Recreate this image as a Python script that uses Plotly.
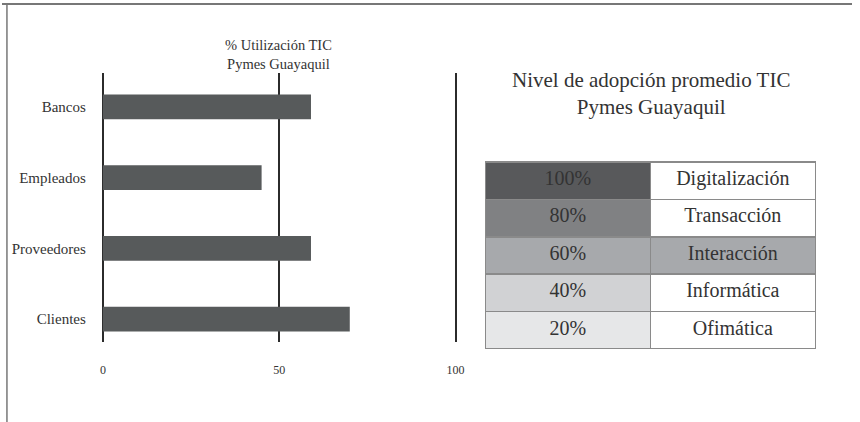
import plotly.graph_objects as go

# ---- data ----
categories = ["Clientes", "Proveedores", "Empleados", "Bancos"]
utilizacion = [70, 59, 45, 59]
x_ticks = [0, 50, 100]
x_tick_labels = ["0", "50", "100"]

niveles = ["100%", "80%", "60%", "40%", "20%"]
etapas = ["Digitalización", "Transacción", "Interacción", "Informática", "Ofimática"]
nivel_colors = ["#58595b", "#808183", "#a7a9ac", "#d1d2d4", "#e6e7e8"]
etapa_colors = ["#ffffff", "#ffffff", "#a7a9ac", "#ffffff", "#ffffff"]

FONT = "Liberation Serif, Times New Roman, serif"
W, H = 860, 422

fig = go.Figure()

fig.add_trace(go.Bar(
    y=categories, x=utilizacion, orientation="h",
    marker=dict(color="#575a5b", line=dict(width=0)),
    width=0.35, xaxis="x", yaxis="y", showlegend=False,
))

row_h = 37.4
fig.add_trace(go.Table(
    domain=dict(x=[489 / W, 823 / W], y=[(H - 349) / H, (H - 162) / H]),
    columnwidth=[1, 1],
    header=dict(
        values=[niveles[0], etapas[0]],
        fill=dict(color=[nivel_colors[0], etapa_colors[0]]),
        line=dict(color="#8a8a8a", width=1.5),
        font=dict(family=FONT, size=20, color="#333333"),
        align="center", height=row_h,
    ),
    cells=dict(
        values=[niveles[1:], etapas[1:]],
        fill=dict(color=[nivel_colors[1:], etapa_colors[1:]]),
        line=dict(color="#8a8a8a", width=1.5),
        font=dict(family=FONT, size=20, color="#333333"),
        align="center", height=row_h,
    ),
))

fig.update_layout(
    width=W, height=H,
    margin=dict(l=0, r=0, t=0, b=0),
    paper_bgcolor="white", plot_bgcolor="white",
    font=dict(family=FONT, color="#333333"),
    xaxis=dict(
        domain=[101 / W, 460 / W], range=[-0.3, 100.3],
        tickvals=x_ticks, ticktext=x_tick_labels,
        showgrid=True, gridcolor="#2b2b2b", gridwidth=2,
        zeroline=False, showline=False,
        ticks="outside", ticklen=17, tickcolor="rgba(0,0,0,0)",
        tickfont=dict(family=FONT, size=12, color="#333333"),
    ),
    yaxis=dict(
        domain=[(H - 342) / H, (H - 73) / H], range=[-0.325, 3.48],
        categoryorder="array", categoryarray=categories,
        showgrid=False, zeroline=False, showline=False,
        ticks="outside", ticklen=12, tickcolor="rgba(0,0,0,0)",
        tickfont=dict(family=FONT, size=15, color="#333333"),
    ),
    annotations=[
        dict(text="% Utilización TIC<br>Pymes Guayaquil", x=280 / W, y=(H - 55) / H,
             xref="paper", yref="paper", showarrow=False, xanchor="center", yanchor="middle",
             font=dict(family=FONT, size=14.5, color="#333333"), align="center"),
        dict(text="Nivel de adopción promedio TIC<br>Pymes Guayaquil", x=657 / W, y=(H - 93) / H,
             xref="paper", yref="paper", showarrow=False, xanchor="center", yanchor="middle",
             font=dict(family=FONT, size=21, color="#333333"), align="center"),
    ],
    shapes=[
        dict(type="line", xref="paper", yref="paper", x0=0, x1=1, y0=(H - 4) / H, y1=(H - 4) / H,
             line=dict(color="#777777", width=2)),
        dict(type="line", xref="paper", yref="paper", x0=5 / W, x1=5 / W, y0=0, y1=(H - 4) / H,
             line=dict(color="#777777", width=1.5)),
    ],
)

fig.write_html("out.html", config={"displayModeBar": False},
               post_script="document.body.style.margin='0';document.body.style.overflow='hidden';")
